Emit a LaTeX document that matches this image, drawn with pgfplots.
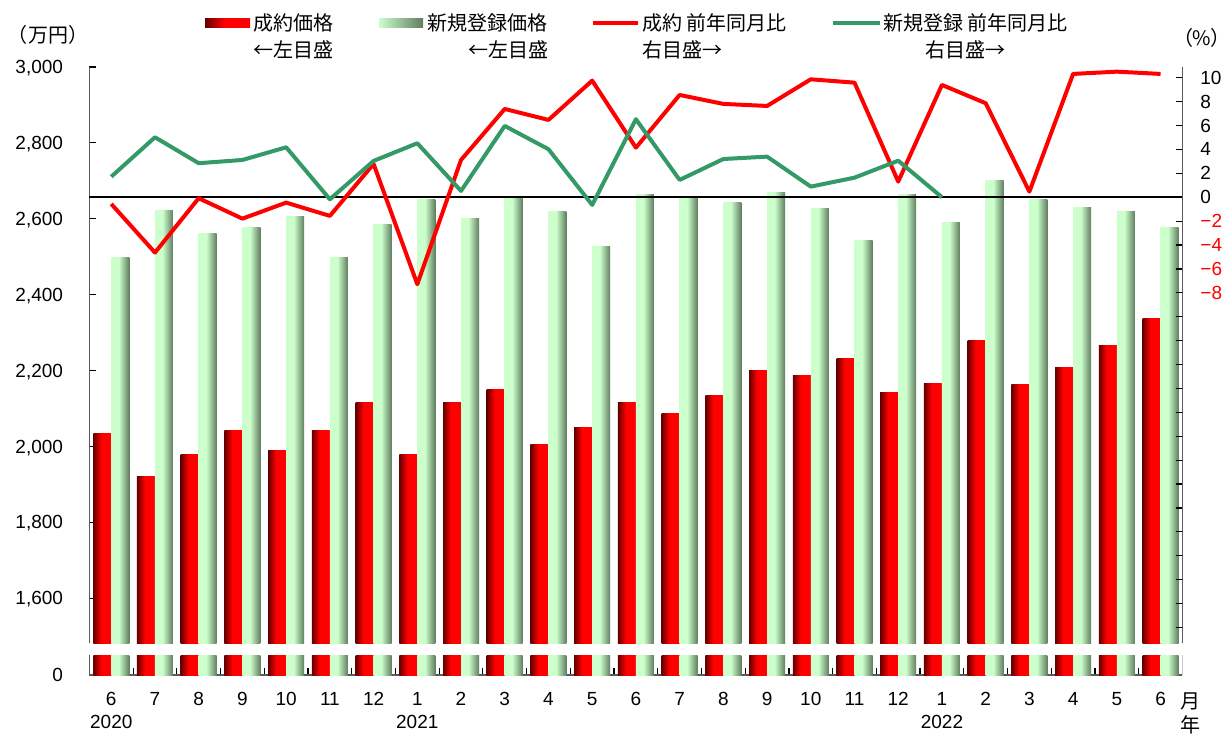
\documentclass[border=0pt]{standalone}
\usepackage{pgfplots}
\pgfplotsset{compat=1.18}
\usepackage{pgfplotstable}
\usepackage{fontspec}
\setmainfont{Liberation Sans}
\newfontfamily\jp{Noto Sans CJK JP}
\newfontfamily\jpp[RawFeature=+palt]{Noto Sans CJK JP}
\definecolor{lineGreen}{RGB}{51,153,102}
\definecolor{barRedDark}{RGB}{100,0,0}
\definecolor{barGreenLight}{RGB}{204,255,204}
\definecolor{barGreenDark}{RGB}{95,125,95}
\definecolor{axGray}{RGB}{90,90,90}

% the visible part of a shading fitted to a path runs from 25bp to 75bp
\pgfdeclarehorizontalshading{redgrad}{100bp}{color(0bp)=(barRedDark); color(25bp)=(barRedDark); color(47bp)=(red); color(75bp)=(red); color(100bp)=(red)}
\pgfdeclarehorizontalshading{greengrad}{100bp}{color(0bp)=(barGreenLight); color(25bp)=(barGreenLight); color(46bp)=(barGreenLight); color(75bp)=(barGreenDark); color(100bp)=(barGreenDark)}
% each bar is drawn as a shaded mark hanging down from its data point
\pgfdeclareplotmark{redbar}{\shade[shading=redgrad, draw=none] (-9pt,0pt) rectangle (0pt,-600pt);}
\pgfdeclareplotmark{greenbar}{\shade[shading=greengrad, draw=none] (0pt,0pt) rectangle (9pt,-600pt);}

\pgfplotstableread{
x sp np sy ny
0 2033 2499 -0.56 1.72
1 1922 2621 -4.63 5.02
2 1978 2560 -0.08 2.85
3 2043 2578 -1.79 3.12
4 1988 2605 -0.45 4.18
5 2041 2499 -1.56 -0.17
6 2115 2586 2.79 3.04
7 1980 2652 -7.28 4.52
8 2115 2600 3.12 0.53
9 2149 2658 7.39 5.97
10 2004 2618 6.47 4.02
11 2049 2526 9.76 -0.64
12 2117 2663 4.15 6.53
13 2088 2660 8.56 1.45
14 2133 2642 7.81 3.20
15 2199 2668 7.64 3.40
16 2186 2628 9.87 0.89
17 2233 2542 9.59 1.64
18 2141 2665 1.31 3.06
19 2167 2589 9.40 0.00
20 2278 2702 7.87 nan
21 2162 2652 0.47 nan
22 2209 2631 10.32 nan
23 2267 2618 10.51 nan
24 2336 2578 10.32 nan
}\data

\newcommand\jpf{\jp\fontsize{10}{12}\selectfont}

\begin{document}
\begin{tikzpicture}
\useasboundingbox (0,0) rectangle (614.5pt,366.5pt);
\pgfplotsset{
  base/.style={scale only axis, width=546.5pt, xmin=-0.5, xmax=24.5,
    axis line style={axGray, line width=0.8pt},
    tick style={black, line width=0.6pt},
    tick align=inside,
    ticklabel style={font=\fontsize{9.5}{11.5}\selectfont, text depth=0pt},
  },
}
% main bar axis (left scale)
\begin{axis}[base, at={(44.7pt,45pt)}, anchor=south west, height=288pt,
  ymin=1482, ymax=3000, axis x line=none, axis y line*=left,
  ytick={1600,1800,...,3000},
  yticklabels={{1,600},{1,800},{2,000},{2,200},{2,400},{2,600},{2,800},{3,000}},
  yticklabel style={inner sep=0pt, xshift=-13pt},
  major tick length=3.5pt]
\addplot[only marks, mark=redbar, clip marker paths=true] table[x=x, y=sp] {\data};
\addplot[only marks, mark=greenbar, clip marker paths=true] table[x=x, y=np] {\data};
\end{axis}
% line axis (right scale)
\begin{axis}[base, at={(44.7pt,45pt)}, anchor=south west, height=288pt,
  ymin=-37.3, ymax=10.9, axis x line=none, axis y line*=right,
  ytick={-36,-34,...,10},
  yticklabels={,,,,,,,,,,,,,,{\color{red}−8},{\color{red}−6},{\color{red}−4},{\color{red}−2},0,2,4,6,8,10},
  yticklabel style={inner sep=0pt, anchor=west, xshift=8.8pt},
  major tick length=3pt,
  extra y ticks={0}, extra y tick labels={},
  extra y tick style={grid=major, major grid style={black, line width=0.9pt}}]
\addplot[red, line width=2pt, line join=round, mark=none] table[x=x, y=sy] {\data};
\addplot[lineGreen, line width=2pt, line join=round, mark=none] table[x=x, y=ny] {\data};
\end{axis}
% lower stub axis (broken part of the value axis)
\begin{axis}[base, at={(44.7pt,29pt)}, anchor=south west, height=10pt,
  ymin=0, ymax=100, axis x line*=bottom, axis y line*=left,
  ytick={0}, yticklabels={0},
  yticklabel style={inner sep=0pt, xshift=-13pt},
  ytick style={draw=none},
  xtick={0,...,24},
  xticklabels={{6\\2020},7,8,9,10,11,12,{1\\2021},2,3,4,5,6,7,8,9,10,11,12,{1\\2022},2,3,4,5,6},
  xticklabel style={align=center, inner sep=0pt, anchor=north, yshift=-8.3pt},
  major x tick style={draw=none},
  minor xtick={0.5,1.5,...,23.5},
  minor tick length=3.5pt]
\addplot[only marks, mark=redbar, clip marker paths=true, y filter/.expression={min(y,100)}] table[x=x, y=sp] {\data};
\addplot[only marks, mark=greenbar, clip marker paths=true, y filter/.expression={min(y,100)}] table[x=x, y=np] {\data};
\draw[axGray, line width=0.8pt] (rel axis cs:1,0) -- (rel axis cs:1,1);
\end{axis}
% legend
\shade[shading=redgrad] (102.5pt,352.75pt) rectangle (125pt,357.25pt);
\node[anchor=west, inner sep=0pt, font=\jpf] at (126.5pt,355pt) {成約価格};
\node[anchor=west, inner sep=0pt, font=\jpf] at (126.5pt,341.5pt) {←左目盛};
\shade[left color=barGreenLight, right color=barGreenDark] (189.5pt,352.75pt) rectangle (211.5pt,357.25pt);
\node[anchor=west, inner sep=0pt, font=\jpf] at (213.5pt,355pt) {新規登録価格};
\node[anchor=east, inner sep=0pt, font=\jpf] at (274.5pt,341.5pt) {←左目盛};
\draw[red, line width=2pt] (296.5pt,355pt) -- (319pt,355pt);
\node[anchor=west, inner sep=0pt, font=\jpf] at (321pt,355pt) {成約 前年同月比};
\node[anchor=west, inner sep=0pt, font=\jpf] at (321pt,341.5pt) {右目盛→};
\draw[lineGreen, line width=2pt] (416.5pt,355pt) -- (440pt,355pt);
\node[anchor=west, inner sep=0pt, font=\jpf] at (441.5pt,355pt) {新規登録 前年同月比};
\node[anchor=west, inner sep=0pt, font=\jpf] at (462.5pt,341.5pt) {右目盛→};
% unit labels
\node[inner sep=0pt, font=\jpf] at (24pt,349pt) {（万円）};
\node[inner sep=0pt, font={\jpp\fontsize{10}{12}\selectfont}] at (601pt,347.5pt) {（\%）};
\node[inner sep=0pt, font=\jpf] at (595pt,16pt) {月};
\node[inner sep=0pt, font=\jpf] at (595pt,4pt) {年};
\end{tikzpicture}
\end{document}
